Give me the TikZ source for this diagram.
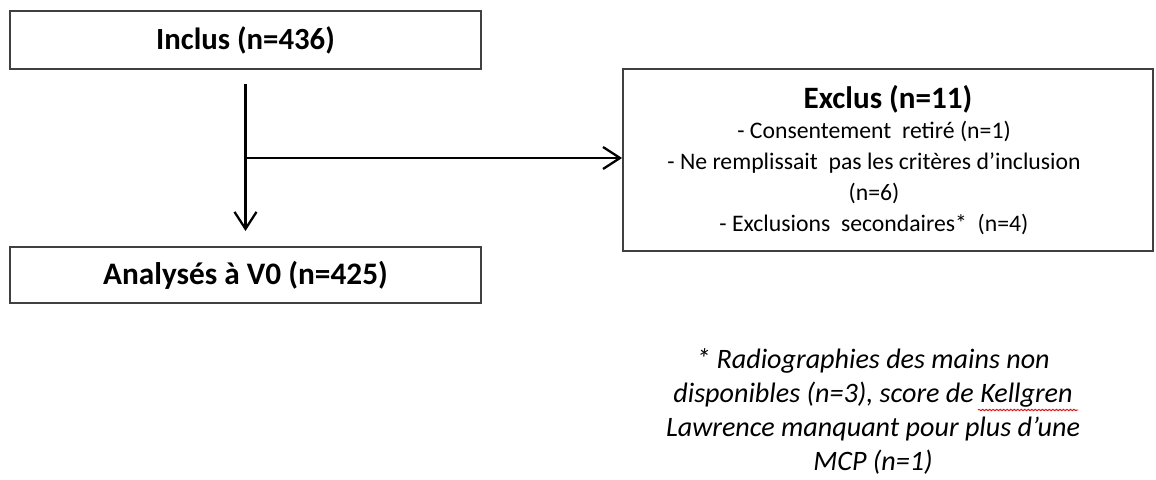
\documentclass[tikz,border=0pt]{standalone}
\usepackage{fontspec}
\setmainfont{Carlito}
\usetikzlibrary{arrows.meta,decorations.pathmorphing}
\newcommand\nb[1]{(n=#1)}
\newcommand\pad{\hspace*{0.56cm}\null}

\begin{document}
\begin{tikzpicture}[
  box/.style={draw=black!75,line width=1pt,rectangle,align=center,inner sep=0pt},
  flow/.style={line width=1.3pt,-{Straight Barb[length=3.4mm,width=4.4mm,line width=1.3pt]}},
  ]
\useasboundingbox (0,0) rectangle (23.12,-9.58);
\node[box,minimum width=9.42cm,minimum height=1.16cm,font=\fontsize{17.5}{18}\selectfont\bfseries] (incl) at (4.91,-0.80) {Inclus \nb{436}};
\node[box,minimum width=9.42cm,minimum height=1.12cm,font=\fontsize{17.8}{18}\selectfont\bfseries] (anal) at (4.91,-5.50) {Analysés à V0 \nb{425}};
\node[box,minimum width=10.6cm,minimum height=3.64cm,font=\fontsize{13.5}{17.6}\selectfont] (excl) at (17.76,-3.20)
 {{\fontsize{17.7}{17.6}\selectfont\bfseries Exclus \nb{11}}\\
  - Consentement\ \ retiré \nb{1}\pad\\
  - Ne remplissait\ \ pas les critères d’inclusion\pad\\
  \nb{6}\pad\\
  - Exclusions\ \ secondaires*\ \ \nb{4}\pad};
\node[align=center,font=\fontsize{16}{19.4}\selectfont\itshape] (note) at (17.46,-8.23)
 {* Radiographies des mains non\\
  disponibles \nb{3}, score de Kellgren\\
  Lawrence manquant pour plus d’une\\
  MCP \nb{1}};
\coordinate (top) at (4.91,-1.68);
\coordinate (split) at (4.91,-3.16);
\draw[flow] (top) -- (anal.north |- 0,-4.62);
\draw[flow] (split) -- (excl.west |- split);
\draw[red,line width=0.5pt,decorate,
  decoration={snake,amplitude=0.4pt,segment length=2pt}] (19.56,-8.20) -- (21.56,-8.20);
\end{tikzpicture}
\end{document}
